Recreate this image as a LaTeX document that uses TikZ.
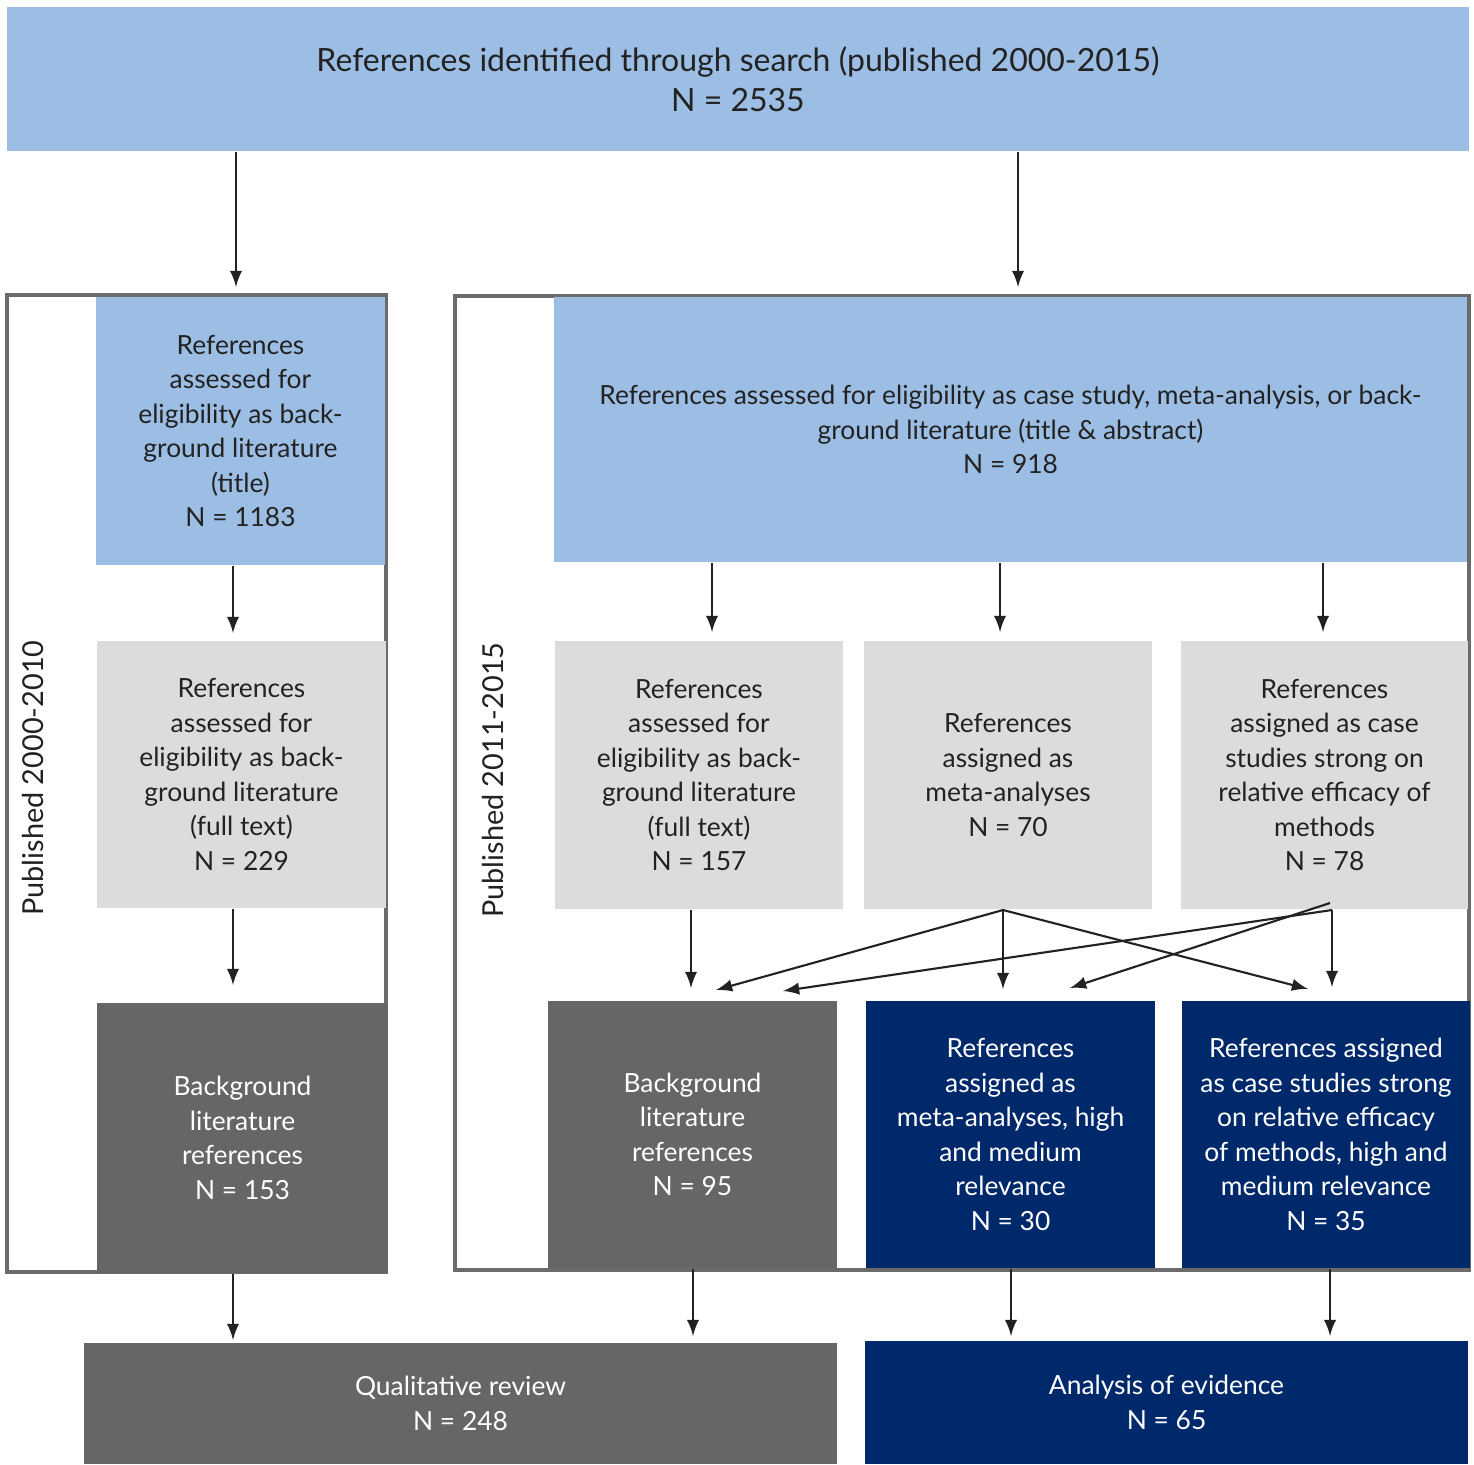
\documentclass[tikz,border=0pt]{standalone}
\usepackage{fontspec}
\setmainfont{Lato}
\definecolor{skyblue}{HTML}{9DBEE4}
\definecolor{palegray}{HTML}{DCDCDC}
\definecolor{darkgray}{HTML}{666666}
\definecolor{navy}{HTML}{00296B}
\definecolor{framegray}{HTML}{6B6B6B}
\definecolor{ink}{HTML}{222222}
\tikzset{
  box/.style={inner sep=0pt, align=center, text=ink, font=\fontsize{7.5}{9.8}\selectfont},
  bluebox/.style={box, fill=skyblue},
  greybox/.style={box, fill=palegray},
  darkbox/.style={box, fill=darkgray, text=white},
  navybox/.style={box, fill=navy, text=white},
  frame/.style={draw=framegray, line width=1.1pt},
  arr/.style={-latex, line width=0.6pt, color=ink},
}
\begin{document}
\begin{tikzpicture}[x=0.01cm,y=-0.01cm]
\useasboundingbox (0,0) rectangle (1474,1464);
% frames of the two periods
\draw[frame] (7,295) rectangle (386,1272);
\draw[frame] (455,296) rectangle (1469,1270);
\node[rotate=90, text=ink, font=\fontsize{8.2}{10}\selectfont] (pubL) at (33,778) {Published 2000-2010};
\node[rotate=90, text=ink, font=\fontsize{8.2}{10}\selectfont] (pubR) at (493,780) {Published 2011-2015};
% top
\node[bluebox, minimum width=14.62cm, minimum height=1.44cm, font=\fontsize{9.1}{11.3}\selectfont] (top) at (738,79) {References identified through search (published 2000-2015)\\N = 2535};
% left column
\node[bluebox, minimum width=2.89cm, minimum height=2.68cm] (L1) at (240.5,431) {References\\assessed for\\eligibility as back-\\ground literature\\(title)\\N = 1183};
\node[greybox, minimum width=2.89cm, minimum height=2.67cm] (L2) at (241.5,774.5) {References\\assessed for\\eligibility as back-\\ground literature\\(full text)\\N = 229};
\node[darkbox, minimum width=2.91cm, minimum height=2.70cm] (L3) at (242.5,1138) {Background\\literature\\references\\N = 153};
% right column
\node[bluebox, minimum width=9.13cm, minimum height=2.65cm] (RT) at (1010.5,429.5) {References assessed for eligibility as case study, meta-analysis, or back-\\ground literature (title \& abstract)\\N = 918};
\node[greybox, minimum width=2.88cm, minimum height=2.68cm] (G1) at (699,775) {References\\assessed for\\eligibility as back-\\ground literature\\(full text)\\N = 157};
\node[greybox, minimum width=2.88cm, minimum height=2.68cm] (G2) at (1008,775) {References\\assigned as\\meta-analyses\\N = 70};
\node[greybox, minimum width=2.87cm, minimum height=2.68cm] (G3) at (1324.5,775) {References\\assigned as case\\studies strong on\\relative efficacy of\\methods\\N = 78};
\node[darkbox, minimum width=2.89cm, minimum height=2.67cm] (D1) at (692.5,1134.5) {Background\\literature\\references\\N = 95};
\node[navybox, minimum width=2.89cm, minimum height=2.67cm] (D2) at (1010.5,1134.5) {References\\assigned as\\meta-analyses, high\\and medium\\relevance\\N = 30};
\node[navybox, minimum width=2.88cm, minimum height=2.67cm] (D3) at (1326,1134.5) {References assigned\\as case studies strong\\on relative efficacy\\of methods, high and\\medium relevance\\N = 35};
% bottom
\node[darkbox, minimum width=7.53cm, minimum height=1.21cm] (Q) at (460.5,1403.5) {Qualitative review\\N = 248};
\node[navybox, minimum width=6.03cm, minimum height=1.23cm] (A) at (1166.5,1402.5) {Analysis of evidence\\N = 65};
% arrow ends
\coordinate (tL) at (236,287);
\coordinate (tR) at (1018,287);
\coordinate (aL1) at (233,633);
\coordinate (aL2) at (233,985);
\coordinate (aR1) at (712,632);
\coordinate (aR2) at (1000,632);
\coordinate (aR3) at (1323,632);
\coordinate (aG1) at (691,988);
\coordinate (sM) at (1003,910);
\coordinate (sR) at (1332,910);
\coordinate (sR2) at (1330,903);
\coordinate (tM1) at (716,990);
\coordinate (tM2) at (1003,989);
\coordinate (tM3) at (1308,989);
\coordinate (tR1) at (783,991);
\coordinate (tR2) at (1332,987);
\coordinate (tR3) at (1070,988);
\coordinate (bL) at (233,1340);
\coordinate (bD1) at (693,1336);
\coordinate (bD2) at (1011,1336);
\coordinate (bD3) at (1330,1336);
% connectors
\draw[arr] (top.south -| tL) -- (tL);
\draw[arr] (top.south -| tR) -- (tR);
\draw[arr] (L1.south -| aL1) -- (aL1);
\draw[arr] (L2.south -| aL2) -- (aL2);
\draw[arr] (RT.south -| aR1) -- (aR1);
\draw[arr] (RT.south -| aR2) -- (aR2);
\draw[arr] (RT.south -| aR3) -- (aR3);
\draw[arr] (G1.south -| aG1) -- (aG1);
\draw[arr] (sM) -- (tM1);
\draw[arr] (sM) -- (tM2);
\draw[arr] (sM) -- (tM3);
\draw[arr] (sR) -- (tR1);
\draw[arr] (sR) -- (tR2);
\draw[arr] (sR2) -- (tR3);
\draw[arr] (L3.south -| bL) -- (bL);
\draw[arr] (D1.south -| bD1) -- (bD1);
\draw[arr] (D2.south -| bD2) -- (bD2);
\draw[arr] (D3.south -| bD3) -- (bD3);
\end{tikzpicture}
\end{document}
